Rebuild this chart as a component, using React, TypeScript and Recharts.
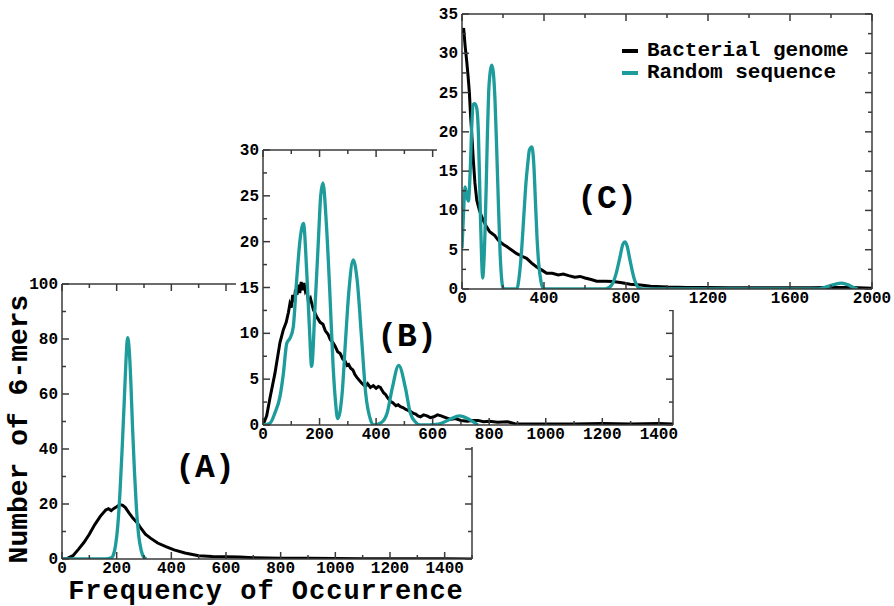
import React from "react";
import { LineChart, Line, XAxis, YAxis } from "recharts";

const TEAL = "#1e9b9b";
const FRAME = "#3a3a3a";
const FONT = "'Liberation Mono', 'Courier New', monospace";

// (A) bacterial genome
const A_GEN_X = [0, 20, 40, 60, 80, 100, 120, 140, 160, 170, 180, 190, 200, 212, 222, 232, 245, 260, 275, 290, 305, 325, 350, 380, 410, 450, 500, 550, 600, 650, 700, 800, 900, 1000, 1100, 1200, 1300, 1400, 1500];
const A_GEN_Y = [0, 0.2, 1.2, 3.5, 6, 9, 12.5, 15.5, 17.8, 18.3, 17.6, 18.4, 19, 19.8, 19.5, 18.7, 16.8, 14.8, 13.2, 11, 9, 7.5, 5.8, 4.5, 3.3, 2.2, 1.2, 0.9, 0.8, 0.7, 0.5, 0.3, 0.3, 0.2, 0.1, 0.1, 0.05, 0.05, 0];
// (A) random sequence
const A_RND_X = [0, 160, 180, 188, 196, 204, 212, 220, 228, 234, 240, 246, 252, 258, 265, 272, 280, 290, 300, 310];
const A_RND_Y = [0, 0, 0.4, 1.5, 5, 12, 24, 40, 58, 72, 80.5, 76, 64, 48, 32, 19, 9, 3, 0.6, 0];

// (B)
const B_GEN_X = [0, 13, 25, 42, 60, 72, 82, 90, 95, 100, 105, 110, 115, 120, 125, 130, 135, 140, 145, 150, 155, 161, 168, 178, 190, 202, 212, 220, 230, 238, 247, 255, 264, 273, 282, 290, 297, 303, 310, 318, 325, 332, 340, 348, 355, 362, 370, 380, 390, 400, 408, 415, 421, 427, 434, 440, 450, 460, 470, 478, 486, 495, 505, 513, 521, 530, 540, 548, 557, 568, 580, 592, 604, 617, 630, 646, 663, 680, 700, 722, 740, 760, 780, 800, 830, 865, 890, 922, 1000, 1100, 1200, 1300, 1400, 1450];
const B_GEN_Y = [0, 1, 3, 5.6, 9, 10.4, 11.2, 12.3, 13.2, 12.8, 14.2, 13.4, 14.8, 14.2, 15.3, 14.4, 15.6, 14.7, 15.5, 14.6, 14.9, 13.4, 13.8, 12.6, 11.8, 11.2, 11.0, 10.3, 9.9, 9.3, 9.0, 8.6, 8.0, 7.8, 7.2, 7.0, 6.5, 6.6, 6.2, 6.0, 5.5, 5.2, 4.9, 4.6, 4.4, 4.2, 4.5, 4.1, 4.3, 4.0, 4.2, 4.1, 3.8, 3.5, 3.3, 3.0, 2.6, 2.4, 2.1, 2.2, 2.0, 1.9, 1.7, 1.6, 1.5, 1.3, 1.2, 1.0, 0.9, 1.1, 1.0, 0.8, 0.9, 1.1, 1.0, 0.8, 0.6, 0.7, 0.5, 0.4, 0.5, 0.5, 0.35, 0.4, 0.3, 0.35, 0.15, 0.1, 0.1, 0.1, 0.15, 0.1, 0.15, 0.1];
const B_RND_X = [0, 25, 42, 60, 72, 84, 96, 107, 119, 131, 143, 155, 164, 172, 184, 196, 204, 212, 224, 236, 248, 256, 264, 280, 292, 304, 319, 333, 349, 363, 381, 392, 420, 439, 457, 480, 504, 521, 540, 557, 620, 660, 695, 730, 760];
const B_RND_Y = [0, 0.2, 1.3, 3.1, 5.6, 8.9, 9.5, 10.7, 15.8, 20.2, 22, 16.5, 10.7, 6.4, 12.9, 20.2, 25, 26.4, 22, 14.7, 6.4, 2.7, 0.7, 3.5, 9.3, 14.7, 18, 15.8, 9.3, 3.5, 0.5, 0, 0.3, 1.3, 4, 6.5, 4, 1.3, 0.3, 0, 0.1, 0.6, 1.0, 0.6, 0];

// (C)
const C_GEN_X = [0, 8, 15, 23, 30, 36, 42, 47, 55, 63, 72, 85, 96, 108, 120, 135, 145, 160, 177, 200, 218, 240, 267, 290, 315, 340, 364, 390, 413, 440, 470, 494, 520, 550, 576, 600, 630, 657, 700, 737, 780, 820, 870, 920, 1000, 1100, 1200, 1300, 1400, 1500, 1600, 1700, 1800, 1900, 2000];
const C_GEN_Y = [32.5, 33.2, 31, 29, 27, 25, 22, 20, 16.5, 13.5, 11.3, 10, 9.2, 8.5, 7.9, 7.3, 7.1, 6.8, 6.2, 5.7, 5.4, 5, 4.5, 4.2, 3.9, 3.3, 2.8, 2.4, 2, 2, 1.8, 1.9, 1.7, 1.5, 1.6, 1.4, 1.2, 1, 1, 0.95, 0.8, 0.6, 0.5, 0.35, 0.25, 0.2, 0.2, 0.15, 0.15, 0.15, 0.15, 0.15, 0.2, 0.2, 0.1];
const C_RND_X = [0, 8, 15, 22, 31, 40, 48, 55, 63, 72, 80, 88, 96, 101, 106, 112, 118, 124, 130, 137, 145, 153, 161, 169, 177, 186, 194, 202, 267, 280, 291, 302, 312, 321, 329, 341, 350, 358, 366, 374, 385, 398, 700, 730, 750, 770, 785, 795, 805, 820, 840, 860, 880, 1740, 1780, 1820, 1850, 1880, 1910, 1930];
const C_RND_Y = [5.2, 10, 13, 12, 11.2, 15, 21, 23.5, 23.6, 23, 19.8, 11.3, 3.7, 1.4, 3, 7.1, 13, 19.8, 25, 27.5, 28.5, 27.5, 24, 18, 11.3, 4.5, 1.1, 0, 0, 1.8, 5, 9.5, 13.5, 16, 17.7, 18.1, 16, 11.3, 6.5, 3.3, 1, 0, 0, 0.5, 1.8, 4, 5.7, 6, 5.5, 3.6, 1.3, 0.2, 0, 0, 0.3, 0.6, 0.75, 0.55, 0.2, 0];

// tick values (major ones get labels)
const A_X_TICKS = [0, 100, 200, 300, 400, 500, 600, 700, 800, 900, 1000, 1100, 1200, 1300, 1400, 1500];
const A_Y_TICKS = [0, 10, 20, 30, 40, 50, 60, 70, 80, 90, 100];
const B_X_TICKS = [0, 100, 200, 300, 400, 500, 600, 700, 800, 900, 1000, 1100, 1200, 1300, 1400];
const B_Y_TICKS = [0, 2.5, 5, 7.5, 10, 12.5, 15, 17.5, 20, 22.5, 25, 27.5, 30];
const C_X_TICKS = [0, 200, 400, 600, 800, 1000, 1200, 1400, 1600, 1800, 2000];
const C_Y_TICKS = [0, 2.5, 5, 7.5, 10, 12.5, 15, 17.5, 20, 22.5, 25, 27.5, 30, 32.5, 35];

const zip = (xs: number[], ys: number[]) => xs.map((x, i) => ({ x, y: ys[i] }));

type Side = "bottom" | "left" | "top" | "right";

function makeTick(side: Side, major: number, label: boolean) {
  return (props: any) => {
    const x = Number(props.x);
    const y = Number(props.y);
    const v = props.payload.value;
    const r = v / major;
    const isMajor = Math.abs(r - Math.round(r)) < 1e-6;
    const len = isMajor ? 7 : 4;
    let x2 = x;
    let y2 = y;
    if (side === "bottom") y2 = y - len;
    if (side === "top") y2 = y + len;
    if (side === "left") x2 = x + len;
    if (side === "right") x2 = x - len;
    const txt = { fontFamily: FONT, fontWeight: 700, fontSize: 16, fill: "#000" };
    return (
      <g>
        <path d={`M${x},${y}L${x2},${y2}`} stroke={FRAME} strokeWidth={1.5} fill="none" />
        {label && isMajor && side === "bottom" && (
          <text x={x} y={y + 14} textAnchor="middle" style={txt}>{v}</text>
        )}
        {label && isMajor && side === "left" && (
          <text x={x - 4} y={y + 5} textAnchor="end" style={txt}>{v}</text>
        )}
      </g>
    );
  };
}

interface PanelProps {
  left: number; top: number; width: number; height: number;
  yAxisW: number; xAxisH: number; mTop: number; mRight: number;
  xMax: number; yMax: number;
  xTicks: number[]; yTicks: number[]; xMajor: number; yMajor: number;
  genome: { x: number; y: number }[];
  random: { x: number; y: number }[];
}

function Panel(p: PanelProps) {
  const axisLine = { stroke: FRAME, strokeWidth: 1.5 };
  return (
    <div style={{ position: "absolute", left: p.left, top: p.top, width: p.width, height: p.height, background: "#fff" }}>
      <LineChart width={p.width} height={p.height} margin={{ top: p.mTop - 1, right: p.mRight - 1, bottom: 0, left: 0 }}>
        <XAxis xAxisId="b" type="number" dataKey="x" domain={[0, p.xMax]} allowDataOverflow ticks={p.xTicks} interval={0}
          height={p.xAxisH} tickSize={0} tickMargin={0} tickLine={false} axisLine={axisLine} tick={makeTick("bottom", p.xMajor, true)} />
        <XAxis xAxisId="t" orientation="top" type="number" dataKey="x" domain={[0, p.xMax]} allowDataOverflow ticks={p.xTicks} interval={0}
          height={1} tickSize={0} tickMargin={0} tickLine={false} axisLine={axisLine} tick={makeTick("top", p.xMajor, false)} />
        <YAxis yAxisId="l" type="number" domain={[0, p.yMax]} allowDataOverflow ticks={p.yTicks} interval={0}
          width={p.yAxisW} tickSize={0} tickMargin={0} tickLine={false} axisLine={axisLine} tick={makeTick("left", p.yMajor, true)} />
        <YAxis yAxisId="r" orientation="right" type="number" domain={[0, p.yMax]} allowDataOverflow ticks={p.yTicks} interval={0}
          width={1} tickSize={0} tickMargin={0} tickLine={false} axisLine={axisLine} tick={makeTick("right", p.yMajor, false)} />
        <Line xAxisId="b" yAxisId="l" data={p.genome} dataKey="y" type="linear" stroke="#000" strokeWidth={3} dot={false} isAnimationActive={false} />
        <Line xAxisId="b" yAxisId="l" data={p.random} dataKey="y" type="monotone" stroke={TEAL} strokeWidth={3.3} dot={false} isAnimationActive={false} />
      </LineChart>
    </div>
  );
}

const bigText: React.CSSProperties = {
  position: "absolute",
  fontFamily: FONT,
  fontWeight: 700,
  color: "#000",
  whiteSpace: "nowrap",
  lineHeight: 1,
  transform: "translate(-50%, -50%)",
};

function LegendRow({ top, color, text }: { top: number; color: string; text: string }) {
  return (
    <>
      <div style={{ position: "absolute", left: 622, top: top - 2, width: 16, height: 4, background: color }} />
      <div style={{ position: "absolute", left: 647, top: top - 11, fontFamily: FONT, fontWeight: 700, fontSize: 21, lineHeight: "22px", whiteSpace: "nowrap" }}>
        {text}
      </div>
    </>
  );
}

export default function App() {
  return (
    <div style={{ position: "absolute", left: 0, top: 0, width: 894, height: 606, background: "#fff", overflow: "hidden" }}>
      <Panel left={0} top={270} width={480} height={336} yAxisW={62} xAxisH={47} mTop={14} mRight={8}
        xMax={1500} yMax={100} xTicks={A_X_TICKS} yTicks={A_Y_TICKS} xMajor={200} yMajor={20}
        genome={zip(A_GEN_X, A_GEN_Y)} random={zip(A_RND_X, A_RND_Y)} />
      <div style={{ ...bigText, left: 266, top: 579, fontSize: 27, lineHeight: "27px", letterSpacing: 1, transform: "translate(-50%, 0)" }}>Frequency of Occurrence</div>
      <div style={{ ...bigText, left: 20, top: 429, fontSize: 28, transform: "translate(-50%, -50%) rotate(-90deg)" }}>Number of 6-mers</div>
      <div style={{ ...bigText, left: 205, top: 468, fontSize: 33 }}>(A)</div>

      <Panel left={236} top={138} width={454} height={309} yAxisW={27} xAxisH={22} mTop={12} mRight={17}
        xMax={1450} yMax={30} xTicks={B_X_TICKS} yTicks={B_Y_TICKS} xMajor={200} yMajor={5}
        genome={zip(B_GEN_X, B_GEN_Y)} random={zip(B_RND_X, B_RND_Y)} />
      <div style={{ ...bigText, left: 407, top: 337, fontSize: 33 }}>(B)</div>

      <Panel left={437} top={0} width={457} height={310} yAxisW={25} xAxisH={21} mTop={14} mRight={22}
        xMax={2000} yMax={35} xTicks={C_X_TICKS} yTicks={C_Y_TICKS} xMajor={400} yMajor={5}
        genome={zip(C_GEN_X, C_GEN_Y)} random={zip(C_RND_X, C_RND_Y)} />
      <div style={{ ...bigText, left: 607, top: 199, fontSize: 33 }}>(C)</div>
      <LegendRow top={51} color="#000" text="Bacterial genome" />
      <LegendRow top={73} color={TEAL} text="Random sequence" />
    </div>
  );
}
